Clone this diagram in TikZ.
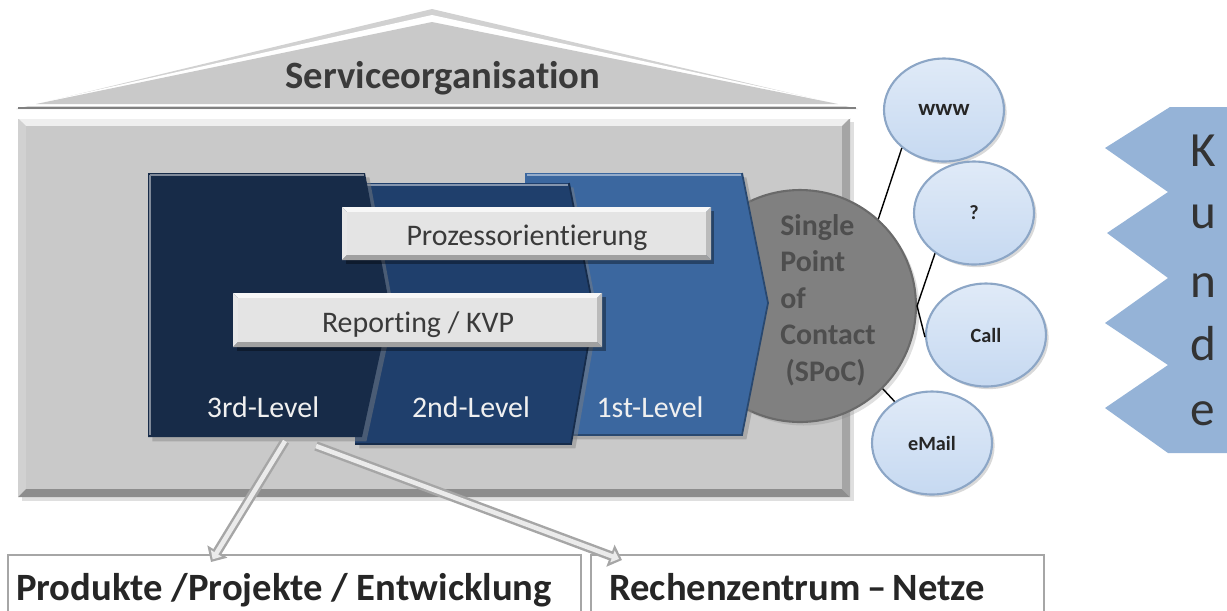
\documentclass[tikz,border=0pt]{standalone}
\usepackage{fontspec}
\setmainfont{Carlito}[Ligatures=CommonOff]
\usetikzlibrary{shapes.geometric,arrows.meta,shadows}
\definecolor{boxgray}{HTML}{C9C9C9}
\definecolor{barwhite}{HTML}{E4E4E4}
\definecolor{lvlthree}{HTML}{172B48}
\definecolor{lvltwo}{HTML}{1F3F6C}
\definecolor{lvlone}{HTML}{3B679F}
\definecolor{spocgray}{HTML}{808080}
\definecolor{spocedge}{HTML}{6A6A6A}
\definecolor{spoctext}{HTML}{4E4E4E}
\definecolor{chanfill}{HTML}{C6D9F1}
\definecolor{chanedge}{HTML}{8CA6C6}
\definecolor{kundeblue}{HTML}{95B3D7}
\definecolor{textdark}{HTML}{3A3A3A}
\definecolor{arrowgray}{HTML}{A6A6A6}
\newcommand{\bevrect}[6]{%
  \fill[#6!30!white] (#1,#2) -- (#3,#2) -- ({#3-#5},{#2+#5}) -- ({#1+#5},{#2+#5}) -- cycle;
  \fill[#6!85!white] (#1,#2) -- ({#1+#5},{#2+#5}) -- ({#1+#5},{#4-#5}) -- (#1,#4) -- cycle;
  \fill[#6!82!black] (#3,#2) -- ({#3-#5},{#2+#5}) -- ({#3-#5},{#4-#5}) -- (#3,#4) -- cycle;
  \fill[#6!70!black] (#1,#4) -- ({#1+#5},{#4-#5}) -- ({#3-#5},{#4-#5}) -- (#3,#4) -- cycle;
  \fill[#6] ({#1+#5},{#2+#5}) rectangle ({#3-#5},{#4-#5});
}
\tikzset{
  roofcap/.style={font=\bfseries\fontsize{22}{26}\selectfont, text=textdark},
  bartext/.style={font=\fontsize{17}{20}\selectfont, text=textdark},
  lvltext/.style={font=\fontsize{17}{20}\selectfont, text=white!94!black, anchor=base},
  chan/.style={ellipse, minimum width=2.4cm, minimum height=2.06cm, inner sep=0pt,
    top color=chanfill!55!white, bottom color=chanfill, draw=chanedge, line width=1.2pt,
    drop shadow={opacity=0.3, shadow xshift=1.5pt, shadow yshift=-1.5pt},
    font=\bfseries\fontsize{11.5}{13}\selectfont, text=black!85},
  conn/.style={draw=black, line width=0.8pt},
  outarrow/.style={draw=arrowgray, line width=5.4pt, -{Triangle[length=7pt,width=13pt]}},
  inarrow/.style={draw=black!8, line width=2.6pt, -{Triangle[length=4pt,width=7pt]}, shorten >=1.8pt},
  bottombox/.style={draw=black!35, line width=0.8pt},
  bottomtext/.style={font=\bfseries\fontsize{22}{26}\selectfont, text=black!85, anchor=base},
  kundeletter/.style={font=\fontsize{28}{32}\selectfont, text=black!80, anchor=base}
}
\begin{document}
\begin{tikzpicture}[x=0.02cm,y=-0.02cm]
\useasboundingbox (0,0) rectangle (1227,610);
\clip (0,0) rectangle (1227,610);
% roof
\fill[black!18] (16,109) -- (432,9) -- (858,109) -- cycle;
\fill[white] (25,106) -- (432,15) -- (849,106) -- cycle;
\fill[boxgray] (36,104) -- (432,22) -- (838,104) -- cycle;
\draw[black!50, line width=1.6pt] (18,108) -- (856,108);
\node[roofcap, anchor=base] (roof) at (443,88) {Serviceorganisation};
% main house body
\fill[black!25, opacity=0.5] (22,122) rectangle (854,501);
\bevrect{18}{118}{850}{497}{8}{boxgray}
\draw[white, line width=1pt] (18,118) -- (850,118);
% SPoC circle (behind levels)
\node[circle, minimum size=4.64cm, inner sep=0pt, fill=spocgray, draw=spocedge, line width=1.2pt,
  drop shadow={opacity=0.25, shadow xshift=2pt, shadow yshift=-2pt}] (spoc) at (800,306) {};
% 1st level
\fill[lvlone, drop shadow={opacity=0.45, shadow xshift=2.5pt, shadow yshift=-2.5pt}]
  (525,173) -- (742,173) -- (768,303) -- (742,435) -- (525,435) -- cycle;
\draw[lvlone!55!white, line width=1.5pt] (527,175) -- (741,175);
\draw[lvlone!70!black, line width=1pt] (742,173) -- (768,303) -- (742,435) -- (525,435);
% 2nd level
\fill[lvltwo, drop shadow={opacity=0.45, shadow xshift=2.5pt, shadow yshift=-2.5pt}]
  (355,183) -- (569,183) -- (594,312) -- (571,444) -- (355,444) -- cycle;
\draw[lvltwo!55!white, line width=1.5pt] (357,185) -- (568,185);
\draw[lvltwo!70!black, line width=1pt] (569,183) -- (594,312) -- (571,444) -- (355,444);
% 3rd level
\fill[lvlthree, drop shadow={opacity=0.45, shadow xshift=2.5pt, shadow yshift=-2.5pt}]
  (148,173) -- (365,173) -- (390,308) -- (362,437) -- (148,437) -- cycle;
\draw[lvlthree!55!white, line width=1.5pt] (150,175) -- (364,175);
\draw[lvlthree!55!white, line width=1.2pt] (150,175) -- (150,435);
\node[lvltext] (l3) at (263,417) {3rd-Level};
\node[lvltext] (l2) at (471,417) {2nd-Level};
\node[lvltext] (l1) at (650,417) {1st-Level};
% bars
\fill[black, opacity=0.35] (346,211) rectangle (714,264);
\bevrect{342}{207}{711}{260}{5}{barwhite}
\node[bartext, anchor=base] (proz) at (527,245) {Prozessorientierung};
\fill[black, opacity=0.35] (237,297) rectangle (606,351);
\bevrect{233}{293}{602}{347}{5}{barwhite}
\node[bartext, anchor=base] (rep) at (418,332) {Reporting / KVP};
% SPoC text
\node[anchor=north west, align=left, inner sep=0pt, text=spoctext,
  font=\bfseries\fontsize{17}{20.8}\selectfont] (spoctxt) at (780,214)
  {Single\\Point\\of\\Contact\\\hspace{3pt}(SPoC)};
% channels
\node[chan] (www) at (944,110) {\fontsize{13}{15}\selectfont www};
\node[chan] (qm) at (974,213) {?};
\node[chan] (call) at (986,335) {Call};
\node[chan] (email) at (932,443) {eMail};
\draw[conn] (spoc.48) -- (www.222);
\draw[conn] (spoc.0) -- (qm.226);
\draw[conn] (spoc.0) -- (call.182);
\draw[conn] (spoc.315) -- (email.132);
% Kunde
\fill[kundeblue] (1170,107) -- (1240,107) -- (1240,453) -- (1168,453) -- (1105,408)
  -- (1168,365) -- (1105,323) -- (1168,278) -- (1107,233) -- (1168,192) -- (1105,148) -- cycle;
\node[kundeletter] (k1) at (1203,166) {K};
\node[kundeletter] (k2) at (1203,228) {u};
\node[kundeletter] (k3) at (1203,297) {n};
\node[kundeletter] (k4) at (1203,360) {d};
\node[kundeletter] (k5) at (1203,425) {e};
% bottom boxes
\draw[bottombox] (8,555) rectangle (581,650);
\draw[bottombox] (591,555) rectangle (1044,650);
\node[bottomtext] (prod) at (284,600) {Produkte /Projekte / Entwicklung};
\node[bottomtext, anchor=base west] (rz) at (603,600) {Rechenzentrum\,--\,Netze};
% arrows from 3rd level
\coordinate (a1s) at (285,441);
\coordinate (a1e) at (211,562);
\coordinate (a2s) at (316,446);
\coordinate (a2e) at (622,560);
\draw[outarrow] (a1s) -- (a1e);
\draw[inarrow] (a1s) -- (a1e);
\draw[outarrow] (a2s) -- (a2e);
\draw[inarrow] (a2s) -- (a2e);
\end{tikzpicture}
\end{document}
